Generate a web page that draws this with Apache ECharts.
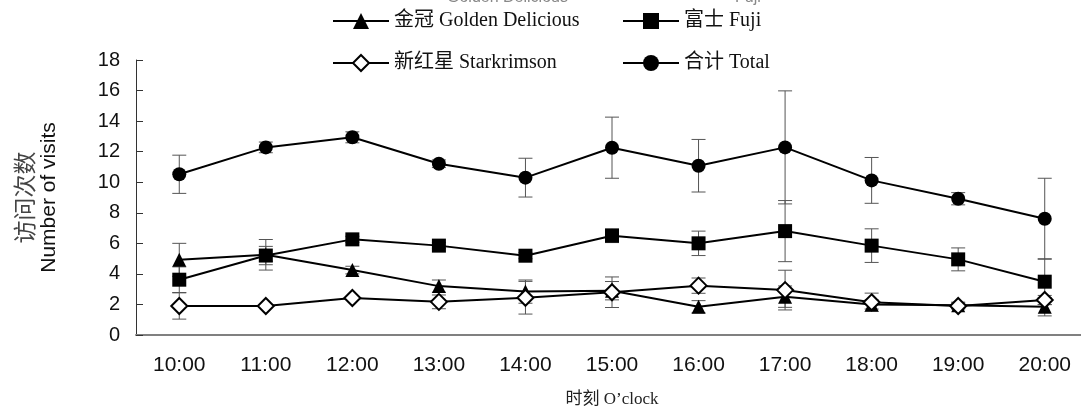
<!DOCTYPE html>
<html>
<head>
<meta charset="utf-8">
<script src="https://cdn.jsdelivr.net/npm/echarts@6/dist/echarts.min.js"></script>
<style>
  html, body { margin: 0; padding: 0; background: #fff; }
  #chart { width: 1081px; height: 412px; }
</style>
</head>
<body>
<div id="chart"></div>
<script>
// 时刻
const hours = ['10:00', '11:00', '12:00', '13:00', '14:00', '15:00', '16:00', '17:00', '18:00', '19:00', '20:00'];
const yTicks = [0, 2, 4, 6, 8, 10, 12, 14, 16, 18];

// 金冠 Golden Delicious
const goldenMean = [4.92, 5.25, 4.25, 3.2, 2.84, 2.9, 1.85, 2.51, 2.0, 1.95, 1.85];
const goldenErr = [1.08, 1.0, 0.25, 0.4, 0.76, 0.6, 0.4, 0.7, 0.3, 0.2, 0.6];
// 富士 Fuji
const fujiMean = [3.62, 5.2, 6.26, 5.85, 5.19, 6.5, 6.0, 6.8, 5.85, 4.95, 3.49];
const fujiErr = [0.84, 0.6, 0.2, 0.2, 0.2, 0.45, 0.8, 2.0, 1.1, 0.75, 1.5];
// 新红星 Starkrimson
const starkMean = [1.9, 1.9, 2.42, 2.17, 2.44, 2.8, 3.23, 2.94, 2.14, 1.9, 2.29];
const starkErr = [0.86, 0.1, 0.1, 0.45, 1.07, 1.0, 0.5, 1.3, 0.6, 0.2, 0.3];
// 合计 Total
const totalMean = [10.52, 12.28, 12.94, 11.21, 10.3, 12.26, 11.08, 12.28, 10.12, 8.92, 7.61];
const totalErr = [1.25, 0.35, 0.36, 0.25, 1.27, 2.0, 1.72, 3.7, 1.5, 0.4, 2.65];

const serif = '"Liberation Serif", "Noto Sans CJK SC", serif';
const sans = '"Liberation Sans", Arial, sans-serif';

const chart = echarts.init(document.getElementById('chart'));

// 误差线
function renderErr(params, api) {
  const idx = api.value(0);
  const m = api.value(1);
  const e = api.value(2);
  const hi = api.coord([idx, m + e]);
  const lo = api.coord([idx, m - e]);
  const w = 7;
  const st = { stroke: '#555', lineWidth: 1 };
  return {
    type: 'group',
    children: [
      { type: 'line', shape: { x1: hi[0], y1: hi[1], x2: lo[0], y2: lo[1] }, style: st },
      { type: 'line', shape: { x1: hi[0] - w, y1: hi[1], x2: hi[0] + w, y2: hi[1] }, style: st },
      { type: 'line', shape: { x1: lo[0] - w, y1: lo[1], x2: lo[0] + w, y2: lo[1] }, style: st }
    ]
  };
}

function errSeries(mean, err) {
  return {
    type: 'custom',
    renderItem: renderErr,
    silent: true,
    z: 1,
    encode: { x: 0, y: 1 },
    data: mean.map((v, i) => [i, v, err[i]])
  };
}

function lineSeries(name, data, symbol, size, fill) {
  return {
    name: name,
    type: 'line',
    data: data,
    symbol: symbol,
    symbolSize: size,
    z: 3,
    lineStyle: { color: '#000', width: 2 },
    itemStyle: { color: fill, borderColor: '#000', borderWidth: fill === '#fff' ? 2 : 0 },
    emphasis: { disabled: true }
  };
}

const legendText = { fontFamily: serif, fontSize: 20, lineHeight: 24, color: '#111' };

const option = {
  animation: false,
  legend: [
    {
      data: ['金冠 Golden Delicious', '新红星 Starkrimson'],
      orient: 'vertical',
      left: 327,
      top: 4,
      itemWidth: 56,
      itemHeight: 20,
      itemGap: 18,
      textStyle: legendText
    },
    {
      data: ['富士 Fuji', '合计 Total'],
      orient: 'vertical',
      left: 617,
      top: 4,
      itemWidth: 56,
      itemHeight: 20,
      itemGap: 18,
      textStyle: legendText
    }
  ],
  graphic: [
    { type: 'text', left: 447, top: -10, style: { text: 'Golden Delicious', font: '16px "Liberation Sans"', fill: '#888' } },
    { type: 'text', left: 735, top: -10, style: { text: 'Fuji', font: '16px "Liberation Sans"', fill: '#888' } }
  ],
  grid: { left: 136, top: 60, width: 952, height: 275, outerBoundsMode: 'none' },
  xAxis: {
    type: 'category',
    data: hours,
    boundaryGap: true,
    name: '时刻 O\u2019clock',
    nameLocation: 'middle',
    nameGap: 56,
    nameTextStyle: { fontFamily: serif, fontSize: 17, color: '#222' },
    axisLine: { lineStyle: { color: '#808080', width: 2 } },
    axisTick: { inside: true, length: 6, lineStyle: { color: '#666' } },
    axisLabel: { fontFamily: sans, fontSize: 21, color: '#111', margin: 20 },
    splitLine: { show: false }
  },
  yAxis: {
    type: 'value',
    min: yTicks[0],
    max: yTicks[yTicks.length - 1],
    interval: 2,
    name: '{a|访问次数}\n{b|Number of visits}',
    nameLocation: 'middle',
    nameRotate: 90,
    nameGap: 76,
    nameTextStyle: {
      rich: {
        a: { fontFamily: '"Noto Sans CJK SC"', fontSize: 23, lineHeight: 28, color: '#444' },
        b: { fontFamily: sans, fontSize: 21, lineHeight: 22, color: '#111' }
      }
    },
    axisLine: { show: true, lineStyle: { color: '#333', width: 1 } },
    axisTick: { show: true, inside: true, length: 7, lineStyle: { color: '#333' } },
    axisLabel: { fontFamily: sans, fontSize: 20, color: '#111', margin: 16 },
    splitLine: { show: false }
  },
  series: [
    errSeries(goldenMean, goldenErr),
    errSeries(fujiMean, fujiErr),
    errSeries(starkMean, starkErr),
    errSeries(totalMean, totalErr),
    lineSeries('金冠 Golden Delicious', goldenMean, 'triangle', 14, '#000'),
    lineSeries('富士 Fuji', fujiMean, 'rect', 14, '#000'),
    lineSeries('新红星 Starkrimson', starkMean, 'diamond', 16, '#fff'),
    lineSeries('合计 Total', totalMean, 'circle', 14, '#000')
  ]
};

chart.setOption(option);
</script>
</body>
</html>
